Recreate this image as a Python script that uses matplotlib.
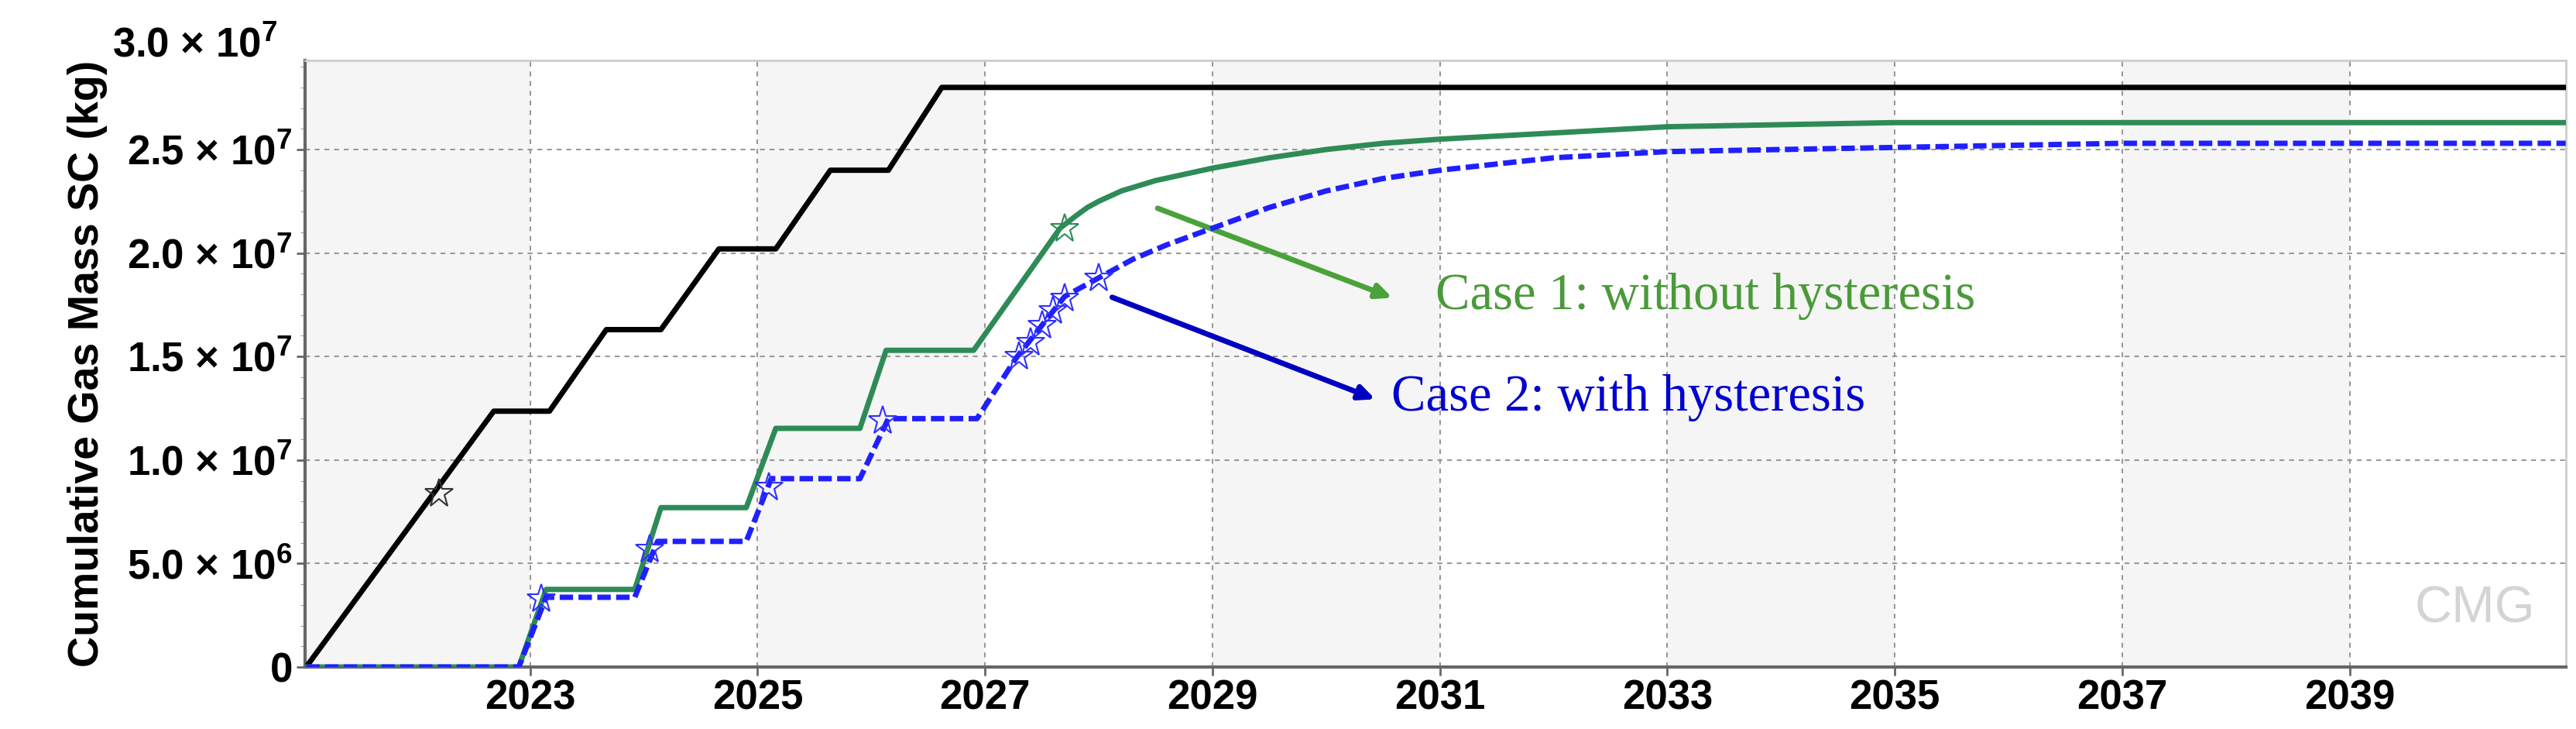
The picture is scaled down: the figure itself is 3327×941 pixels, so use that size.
import matplotlib
matplotlib.use("Agg")
import matplotlib.pyplot as plt
import numpy as np

plt.rcParams['mathtext.default'] = 'regular'

black_x = [2021.03, 2022.68, 2023.17, 2023.67, 2024.15, 2024.66, 2025.16, 2025.64, 2026.15, 2026.62, 2040.9]
black_y = [0, 1.236e7, 1.236e7, 1.63e7, 1.63e7, 2.02e7, 2.02e7, 2.40e7, 2.40e7, 2.80e7, 2.80e7]

green_x = [2021.03, 2022.9, 2023.14, 2023.92, 2024.15, 2024.9, 2025.16, 2025.9, 2026.13, 2026.9,
           2027.66, 2027.8, 2027.9, 2028.0, 2028.2, 2028.5, 2028.75, 2029.0, 2029.5, 2030.0, 2030.5,
           2031.0, 2032.0, 2033.0, 2034.0, 2035.0, 2040.9]
green_y = [0, 0, 3.75e6, 3.75e6, 7.7e6, 7.7e6, 1.153e7, 1.153e7, 1.53e7, 1.53e7,
           2.12e7, 2.18e7, 2.22e7, 2.25e7, 2.30e7, 2.35e7, 2.38e7, 2.41e7, 2.46e7, 2.50e7, 2.53e7,
           2.55e7, 2.58e7, 2.61e7, 2.62e7, 2.63e7, 2.63e7]

blue_x = [2021.03, 2022.9, 2023.14, 2023.92, 2024.12, 2024.9, 2025.12, 2025.9, 2026.15, 2026.93,
          2027.27, 2027.7, 2028.0, 2028.3, 2028.6, 2029.0, 2029.5, 2030.0, 2030.5, 2031.0, 2032.0,
          2033.0, 2035.0, 2037.0, 2040.9]
blue_y = [0, 0, 3.37e6, 3.37e6, 6.07e6, 6.07e6, 9.1e6, 9.1e6, 1.2e7, 1.2e7,
          1.49e7, 1.79e7, 1.88e7, 1.97e7, 2.04e7, 2.12e7, 2.22e7, 2.30e7, 2.36e7, 2.40e7, 2.46e7,
          2.49e7, 2.51e7, 2.53e7, 2.53e7]

black_star_x = [2022.2]; black_star_y = [8.4e6]
green_star_x = [2027.7]; green_star_y = [2.12e7]
blue_star_x = [2023.1, 2024.05, 2025.1, 2026.1, 2027.3, 2027.4, 2027.5, 2027.6, 2027.7, 2028.0]
blue_star_y = [3.3e6, 5.7e6, 8.7e6, 1.19e7, 1.5e7, 1.57e7, 1.65e7, 1.72e7, 1.78e7, 1.88e7]

xticks = [2023, 2025, 2027, 2029, 2031, 2033, 2035, 2037, 2039]
yticks = [0, 5e6, 1e7, 1.5e7, 2e7, 2.5e7]
ytick_labels = ["0", "5.0 × 10$^{6}$", "1.0 × 10$^{7}$", "1.5 × 10$^{7}$", "2.0 × 10$^{7}$", "2.5 × 10$^{7}$"]

SANS = ['Liberation Sans', 'DejaVu Sans']
fig = plt.figure(figsize=(33.27, 9.41), dpi=100)
ax = fig.add_axes([0.1184, 0.085, 0.8776, 0.832])
ax.set_facecolor('white')
xmin, xmax = 2021.02, 2040.9
for s in range(2021, 2041, 4):
    ax.axvspan(s, s + 2, color='#f5f5f5', zorder=0, lw=0)
ax.set_xlim(xmin, xmax)
ax.set_ylim(0, 2.93e7)

ax.plot(black_x, black_y, color='black', lw=5, zorder=3)
ax.plot(green_x, green_y, color='#2e8b57', lw=5, zorder=3)
ax.plot(blue_x, blue_y, color='#1f1fff', lw=5, ls=(0, (2.5, 1)), zorder=4)
ax.plot(black_star_x, black_star_y, ls='none', marker='*', ms=28, mfc='none', mec='#333333', mew=1.5, zorder=5)
ax.plot(green_star_x, green_star_y, ls='none', marker='*', ms=28, mfc='none', mec='#2e8b57', mew=1.5, zorder=5)
ax.plot(blue_star_x, blue_star_y, ls='none', marker='*', ms=28, mfc='none', mec='#3030ff', mew=1.5, zorder=5)

ax.set_xticks(xticks)
ax.set_xticklabels([str(x) for x in xticks])
ax.set_yticks(yticks)
ax.set_yticklabels(ytick_labels)
ax.set_yticks(np.arange(0, 2.93e7, 1e6), minor=True)
ax.grid(True, which='major', ls=(0, (3, 3)), color='#999999', lw=1.5)
ax.tick_params(axis='both', length=8, width=2, color='#666666')
ax.tick_params(axis='y', which='minor', length=4, color='#888888')
for lab in ax.get_xticklabels() + ax.get_yticklabels():
    lab.set_fontweight('bold')
    lab.set_family(SANS)
    lab.set_fontsize(38)
ax.text(-0.012, 3.0e7, "3.0 × 10$^{7}$", transform=ax.get_yaxis_transform(), ha='right', va='center',
        fontsize=38, fontweight='bold', family=SANS, clip_on=False)
for sp in ['left', 'bottom']:
    ax.spines[sp].set_color('#666666'); ax.spines[sp].set_linewidth(3)
for sp in ['top', 'right']:
    ax.spines[sp].set_color('#cccccc'); ax.spines[sp].set_linewidth(2)
ax.set_ylabel("Cumulative Gas Mass SC (kg)", fontsize=40, fontweight='bold', family=SANS, labelpad=18)

ax.annotate("", xy=(2030.6, 1.78e7), xytext=(2028.5, 2.22e7),
            arrowprops=dict(arrowstyle='-|>,head_width=0.55,head_length=1.2', color='#4aa23a', lw=5))
ax.text(2030.96, 1.79e7, "Case 1: without hysteresis", color='#4a9a3a', fontsize=48,
        family='Liberation Serif', va='center', ha='left')
ax.annotate("", xy=(2030.45, 1.29e7), xytext=(2028.1, 1.79e7),
            arrowprops=dict(arrowstyle='-|>,head_width=0.55,head_length=1.2', color='#0000c0', lw=5))
ax.text(2030.57, 1.3e7, "Case 2: with hysteresis", color='#0000d0', fontsize=48,
        family='Liberation Serif', va='center', ha='left')
ax.text(2040.1, 2.8e6, "CMG", color='#d4d4d4', fontsize=48, ha='center', va='center',
        family=SANS)

fig.savefig("out.png", dpi=100)
